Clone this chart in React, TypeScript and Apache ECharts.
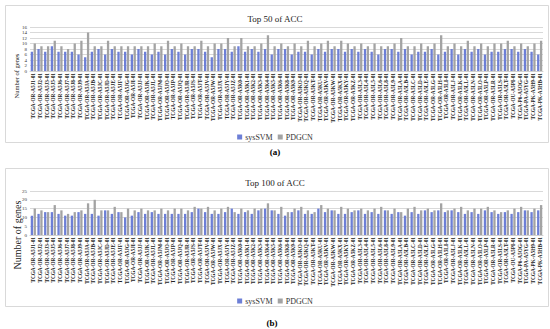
import React, { useEffect, useRef } from "react";
import * as echarts from "echarts";

const categories: string[] = [
  "J1","J2","J3","J5","J6","J7","J8","J9","JA","JB","JC","JD","JE","JF","JG","JI","JJ","JK","JL","JM",
  "JO","JP","JQ","JR","JS","JT","JV","JW","JX","JY","JZ","K0","K1","K2","K3","K4","K5","K6","K8","K9",
  "KO","KQ","KT","KU","KV","KW","KX","KY","KZ","L3","L4","L5","L6","L8","L9","LA","LB","LC","LD","LE",
  "LG","LH","LI","LJ","LK","LL","LN","LO","LP","LR","LS","LT",
].map((s) => "TCGA-OR-A5" + s + "-01").concat([
  "TCGA-OU-A5PI-01","TCGA-P6-A5OG-01","TCGA-PA-A5YG-01","TCGA-PK-A5H9-01","TCGA-PK-A5HB-01",
]);

const top50SysSVM: number[] = [
  7,8,7,9,7,7,7,6,5,7,8,6,8,7,7,6,8,7,6,7,6,8,7,6,8,
  8,7,5,8,8,7,9,7,8,7,8,6,8,8,6,7,7,6,8,7,8,8,7,8,7,
  8,7,6,8,8,7,8,6,7,7,8,6,7,8,6,8,7,8,6,7,7,8,8,7,8,7,6,
];
const top50PDGCN: number[] = [
  10,9,9,11,9,8,10,11,14,9,9,11,9,9,9,9,9,9,10,9,11,9,10,9,9,
  11,9,10,10,12,9,12,9,9,10,13,9,10,9,10,9,11,9,10,11,9,11,10,9,10,
  9,10,9,9,10,12,9,9,10,9,10,13,9,10,9,11,9,10,9,10,10,11,9,10,9,10,11,
];
const top100SysSVM: number[] = [
  11,12,13,13,12,11,11,13,12,12,11,14,12,13,10,11,13,12,13,12,12,12,12,12,13,
  15,13,12,12,13,15,12,13,12,14,15,14,12,11,13,14,12,12,15,13,14,12,12,13,14,
  12,13,12,14,12,13,11,13,12,14,13,14,13,14,13,12,13,12,14,13,12,13,12,13,14,13,14,
];
const top100PDGCN: number[] = [
  15,14,13,17,14,12,13,14,18,20,14,14,16,13,15,14,15,14,14,15,14,15,15,14,16,
  15,16,14,15,16,13,15,14,15,15,18,14,16,13,15,16,14,13,17,15,14,16,15,14,15,
  14,15,16,14,15,13,15,16,14,15,14,18,14,15,16,14,15,15,16,14,13,14,15,16,14,15,17,
];
const top50Ticks = { max: 16, interval: 2 };
const top100Ticks = { max: 25, interval: 5 };

const SERIF = "'Liberation Serif', 'Times New Roman', serif";
const BLUE = "#6d7fd6";
const GRAY = "#a3a3a3";

export default function App() {
  const ref = useRef<HTMLDivElement>(null);
  useEffect(() => {
    if (!ref.current) return;
    const chart = echarts.init(ref.current, null, { renderer: "svg" });
    const xAxis = (gridIndex: number) => ({
      type: "category" as const,
      gridIndex,
      data: categories,
      axisTick: { show: false },
      axisLine: { lineStyle: { color: "#d0d0d0" } },
      axisLabel: {
        interval: 0,
        rotate: 90,
        fontSize: 5.3,
        fontWeight: "bold" as const,
        fontFamily: SERIF,
        color: "#222",
        margin: 2,
      },
    });
    const yAxis = (gridIndex: number, t: { max: number; interval: number }) => ({
      type: "value" as const,
      gridIndex,
      min: 0,
      max: t.max,
      interval: t.interval,
      axisLine: { show: false },
      axisTick: { show: false },
      axisLabel: { fontSize: 5, fontFamily: SERIF, color: "#333", margin: 3 },
      splitLine: { lineStyle: { color: "#d9d9d9", width: 1 } },
    });
    const bar = (name: string, data: number[], color: string, idx: number) => ({
      name,
      type: "bar" as const,
      xAxisIndex: idx,
      yAxisIndex: idx,
      data,
      barWidth: 2.3,
      barGap: "25%",
      itemStyle: { color },
    });
    const legend = (top: number) => ({
      top,
      left: "center",
      data: ["sysSVM", "PDGCN"],
      icon: "rect",
      itemWidth: 5,
      itemHeight: 5,
      itemGap: 5,
      textStyle: { fontSize: 8, fontFamily: SERIF, color: "#333", padding: [0, 0, 0, -2] },
    });
    chart.setOption({
      animation: false,
      title: [
        { text: "Top 50 of ACC", left: "center", top: 9, textStyle: { fontSize: 9, fontFamily: SERIF, fontWeight: "normal", color: "#222" } },
        { text: "Top 100 of ACC", left: "center", top: 173, textStyle: { fontSize: 9, fontFamily: SERIF, fontWeight: "normal", color: "#222" } },
      ],
      legend: [legend(128), legend(292)],
      grid: [
        { left: 30, width: 513, top: 27, height: 44 },
        { left: 30, width: 513, top: 191, height: 44 },
      ],
      xAxis: [xAxis(0), xAxis(1)],
      yAxis: [yAxis(0, top50Ticks), yAxis(1, top100Ticks)],
      series: [
        bar("sysSVM", top50SysSVM, BLUE, 0),
        bar("PDGCN", top50PDGCN, GRAY, 0),
        bar("sysSVM", top100SysSVM, BLUE, 1),
        bar("PDGCN", top100PDGCN, GRAY, 1),
      ],
      graphic: [
        { type: "rect", shape: { x: 5.5, y: 5.5, width: 543, height: 137 }, style: { fill: "none", stroke: "#d9d9d9", lineWidth: 1 }, z: -1 },
        { type: "rect", shape: { x: 5.5, y: 168.5, width: 543, height: 138 }, style: { fill: "none", stroke: "#d9d9d9", lineWidth: 1 }, z: -1 },
        { type: "text", x: 16, y: 76, rotation: Math.PI / 2, style: { text: "Number of genes", fontSize: 6.5, fontFamily: SERIF, fill: "#222", align: "center", verticalAlign: "middle" } },
        { type: "text", x: 17, y: 235, rotation: Math.PI / 2, style: { text: "Number of genes", fontSize: 10, fontFamily: SERIF, fill: "#222", align: "center", verticalAlign: "middle" } },
        { type: "text", x: 275, y: 152, style: { text: "(a)", fontSize: 9, fontWeight: "bold", fontFamily: SERIF, fill: "#000", align: "center", verticalAlign: "middle" } },
        { type: "text", x: 272, y: 323, style: { text: "(b)", fontSize: 9, fontWeight: "bold", fontFamily: SERIF, fill: "#000", align: "center", verticalAlign: "middle" } },
      ],
    });
    return () => chart.dispose();
  }, []);
  return (
    <div
      ref={ref}
      style={{ position: "fixed", left: 0, top: 0, width: 550, height: 329, background: "#fff" }}
    />
  );
}
